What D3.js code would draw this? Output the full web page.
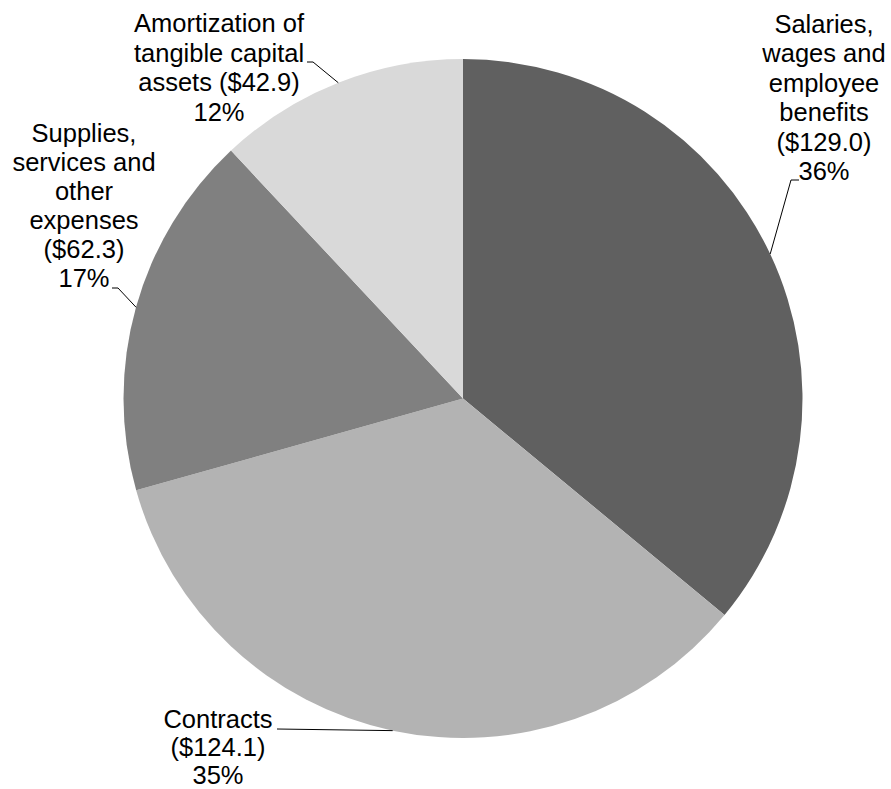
<!DOCTYPE html>
<html><head><meta charset="utf-8">
<script src="https://cdn.jsdelivr.net/npm/d3@7"></script>
<style>html,body{margin:0;padding:0;background:#fff;}svg{display:block;}</style>
</head><body>
<script>
const categories = ["Salaries, wages and employee benefits", "Contracts", "Supplies, services and other expenses", "Amortization of tangible capital assets"];
const values = [129.0, 124.1, 62.3, 42.9];
const labelLines = [
  ["Salaries,", "wages and", "employee", "benefits", "($129.0)", "36%"],
  ["Contracts", "($124.1)", "35%"],
  ["Supplies,", "services and", "other", "expenses", "($62.3)", "17%"],
  ["Amortization of", "tangible capital", "assets ($42.9)", "12%"]
];
const colors = ["#606060", "#b3b3b3", "#808080", "#d9d9d9"];

const W = 891, H = 789;
const cx = 463, cy = 398.5, R = 339.5;
const fontSize = 25.5;
// label layout: center x, first baseline, line spacing, leader anchor points
const labelPos = [
  {x: 824, y: 33, lh: 29.4, pts: [[799,180],[791,180]]},
  {x: 218, y: 728, lh: 28, pts: [[277,729]]},
  {x: 84,  y: 142, lh: 29.0, pts: [[112,288],[118,288]]},
  {x: 219, y: 32, lh: 29.6, pts: [[307,62],[313,62]]}
];

const svg = d3.select("body").append("svg").attr("width", W).attr("height", H);
const g = svg.append("g").attr("transform", `translate(${cx},${cy})`);
const pie = d3.pie().sort(null).value(d => d)(values);
const arc = d3.arc().innerRadius(0).outerRadius(R);
g.selectAll("path.slice").data(pie).join("path")
  .attr("class", "slice").attr("d", arc).attr("fill", (d,i) => colors[i]);

pie.forEach((d, i) => {
  const a = (d.startAngle + d.endAngle) / 2;
  const ex = cx + R * Math.sin(a), ey = cy - R * Math.cos(a);
  const lp = labelPos[i];
  const pts = lp.pts.concat([[ex, ey]]);
  svg.append("path").attr("d", d3.line()(pts)).attr("fill", "none")
    .attr("stroke", "#000").attr("stroke-width", 1);
  const t = svg.append("text").attr("text-anchor", "middle")
    .attr("font-family", "Liberation Sans, Arial, sans-serif")
    .attr("font-size", fontSize).attr("fill", "#000");
  labelLines[i].forEach((s, k) => {
    t.append("tspan").attr("x", lp.x).attr("y", lp.y + k * lp.lh).text(s);
  });
});
</script>
</body></html>
